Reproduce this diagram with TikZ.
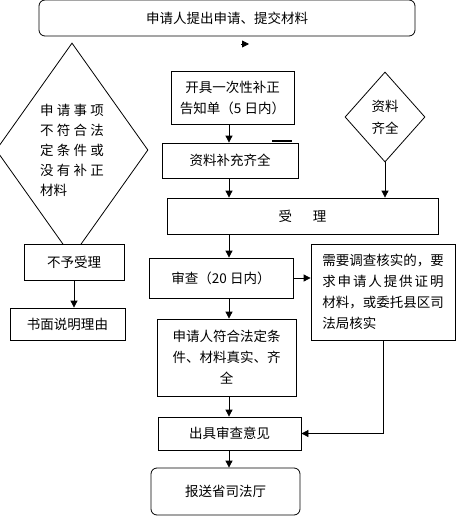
\documentclass[tikz,border=0pt]{standalone}
\usepackage{fontspec}
\setmainfont{Noto Sans CJK SC}
\usepackage{tikz}
\usetikzlibrary{arrows.meta,positioning,shapes.geometric}
\tikzset{
  flowbox/.style={
    rectangle,
    draw=black,
    line width=0.8pt,
    fill=white,
    inner sep=0pt,
    align=center,
    font=\fontsize{13.5}{21}\selectfont
  },
  flowround/.style={flowbox, rounded corners=6pt},
  flowdiamond/.style={flowbox, diamond, align=left},
  flowarrow/.style={-{Triangle[length=7pt,width=7pt]}, line width=0.8pt, draw=black}
}
\newcommand{\jgap}[1][3.3pt]{\hspace{#1}}

\begin{document}
\begin{tikzpicture}[x=1pt,y=-1pt]
\useasboundingbox (0,0) rectangle (457,522);
\coordinate (col) at (229,0);
\node[flowround, minimum width=376pt, minimum height=36pt] (a) at (227,18) {申请人提出申请、提交材料};
\coordinate (t1) at (241,44);
\coordinate (t2) at (249,44);
\draw[flowarrow] (t1) -- (t2);
\node[flowdiamond, aspect=0.71, minimum width=152pt, minimum height=214pt,
  font=\fontsize{13.5}{20}\selectfont] (b) at (72,150)
  {申\jgap 请\jgap 事\jgap 项\\不\jgap 符\jgap 合\jgap 法\\定\jgap 条\jgap 件\jgap 或\\没\jgap 有\jgap 补\jgap 正\\材料};
\node[flowbox, minimum width=100pt, minimum height=36pt] (c) at (74,262) {不予受理};
\node[flowbox, minimum width=115pt, minimum height=32pt] (d) at (67.5,324) {书面说明理由};
\node[flowbox, minimum width=123pt, minimum height=53pt] (e) at (232.5,97.5) {开具一次性补正\\告知单（5 日内）};
\node[flowbox, minimum width=136pt, minimum height=35pt] (f) at (230,160.5) {资料补充齐全};
\coordinate (s1) at (272,141);
\coordinate (s2) at (292,141);
\draw[line width=1.6pt] (s1) -- (s2);
\node[flowdiamond, aspect=0.89, minimum width=80pt, minimum height=90pt,
  font=\fontsize{13.5}{22}\selectfont] (g) at (385,117) {资料\\齐全};
\node[flowbox, minimum width=271pt, minimum height=36pt] (h) at (302.5,216) {受\hspace{21pt}理};
\node[flowbox, minimum width=144pt, minimum height=40pt] (i) at (221,278) {审查（20 日内）};
\node[flowbox, minimum width=144pt, minimum height=96pt, align=left] (j) at (383,292)
  {需要调查核实的，要\\求\jgap[1.9pt]申\jgap[1.9pt]请\jgap[1.9pt]人\jgap[1.9pt]提\jgap[1.9pt]供\jgap[1.9pt]证\jgap[1.9pt]明\\材料，或委托县区司\\法局核实};
\node[flowbox, minimum width=139pt, minimum height=77pt] (k) at (226.5,357.5) {申请人符合法定条\\件、材料真实、齐\\全};
\node[flowbox, minimum width=143pt, minimum height=33pt] (l) at (229.5,433.5) {出具审查意见};
\node[flowround, minimum width=149pt, minimum height=47pt] (m) at (225.5,491.5) {报送省司法厅};
\draw[flowarrow] (c.south) -- (c.south |- d.north);
\draw[flowarrow] (e.south -| col) -- (f.north -| col);
\draw[flowarrow] (f.south -| col) -- (h.north -| col);
\draw[flowarrow] (g.south) -- (g.south |- h.north);
\draw[flowarrow] (h.south -| col) -- (i.north -| col);
\draw[flowarrow] (i.east) -- (i.east -| j.west);
\draw[flowarrow] (i.south -| col) -- (k.north -| col);
\draw[flowarrow] (k.south -| col) -- (l.north -| col);
\draw[flowarrow] (j.south) |- (l.east);
\draw[flowarrow] (l.south -| col) -- (m.north -| col);
\end{tikzpicture}
\end{document}
